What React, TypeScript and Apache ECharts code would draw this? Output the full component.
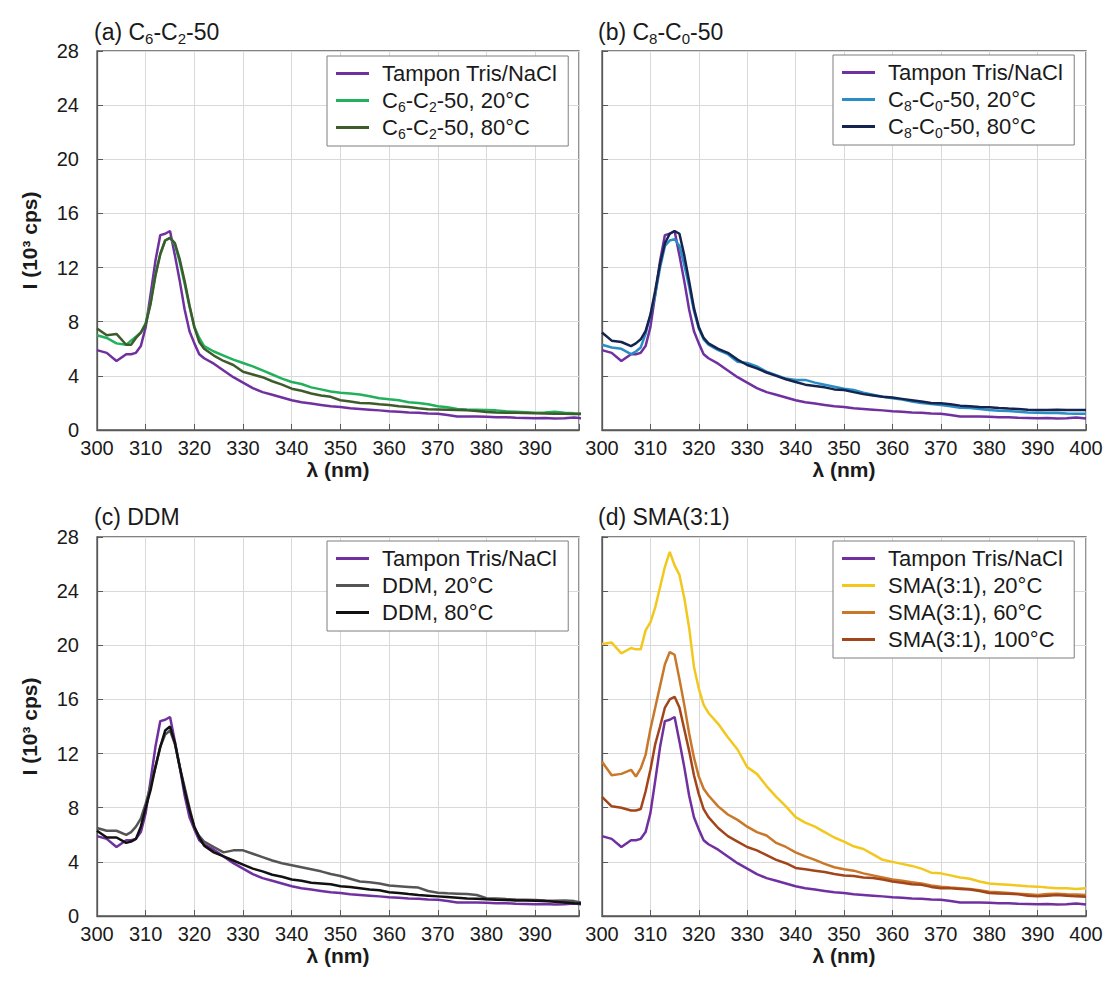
import React, { useEffect, useRef } from 'react';
import * as echarts from 'echarts';

// wavelength (nm)
const wavelengths = [
  300, 302, 304, 306, 307, 308, 309, 310, 311, 312, 313, 314, 315, 316, 317, 318, 319, 320, 321, 322,
  324, 326, 328, 330, 332, 334, 336, 338, 340, 342, 344, 346, 348, 350, 352, 354, 356, 358, 360, 362,
  364, 366, 368, 370, 372, 374, 376, 378, 380, 382, 384, 386, 388, 390, 392, 394, 396, 398, 400,
];

// intensities (10^3 cps)
const tampon = [
  5.9, 5.7, 5.1, 5.6, 5.6, 5.7, 6.2, 7.6, 10.0, 12.5, 14.4, 14.5, 14.7, 12.9, 11.0, 8.9, 7.3, 6.4, 5.6, 5.3,
  4.9, 4.4, 3.9, 3.5, 3.1, 2.8, 2.6, 2.4, 2.2, 2.05, 1.95, 1.85, 1.75, 1.7, 1.6, 1.55, 1.5, 1.45, 1.38, 1.35,
  1.3, 1.28, 1.22, 1.2, 1.1, 1.0, 1.0, 1.0, 0.98, 0.95, 0.95, 0.9, 0.88, 0.86, 0.88, 0.85, 0.86, 0.92, 0.85,
];
const c6c2_20 = [
  7.0, 6.8, 6.4, 6.3, 6.6, 6.9, 7.2, 7.9, 9.4, 11.5, 13.0, 14.0, 14.2, 13.7, 12.4, 10.8, 9.1, 7.6, 6.8, 6.2,
  5.8, 5.5, 5.2, 4.95, 4.7, 4.4, 4.1, 3.8, 3.55, 3.4, 3.15, 3.0, 2.85, 2.75, 2.7, 2.62, 2.5, 2.35, 2.27, 2.2,
  2.05, 2.0, 1.9, 1.75, 1.68, 1.55, 1.52, 1.5, 1.48, 1.45, 1.38, 1.35, 1.32, 1.28, 1.3, 1.35, 1.28, 1.23, 1.22,
];
const c6c2_80 = [
  7.5, 7.0, 7.1, 6.3, 6.3, 6.8, 7.2, 7.8, 9.3, 11.4, 13.0, 14.0, 14.2, 13.8, 12.6, 11.0, 9.2, 7.6, 6.5, 6.0,
  5.5, 5.1, 4.8, 4.3, 4.1, 3.9, 3.6, 3.35, 3.05, 2.9, 2.7, 2.55, 2.45, 2.2, 2.1, 2.0, 1.98, 1.9, 1.85, 1.75,
  1.7, 1.6, 1.53, 1.52, 1.5, 1.48, 1.45, 1.4, 1.33, 1.3, 1.28, 1.27, 1.25, 1.23, 1.22, 1.2, 1.2, 1.19, 1.18,
];
const c8c0_20 = [
  6.3, 6.1, 6.0, 5.6, 5.8, 6.1, 7.1, 8.5, 10.0, 12.0, 13.6, 14.0, 14.1, 13.6, 12.2, 10.6, 8.8, 7.5, 6.7, 6.3,
  5.9, 5.6, 5.05, 4.95, 4.7, 4.3, 4.05, 3.8, 3.7, 3.7, 3.5, 3.35, 3.2, 3.05, 2.95, 2.75, 2.6, 2.45, 2.35, 2.25,
  2.1, 2.0, 1.92, 1.85, 1.75, 1.65, 1.62, 1.55, 1.48, 1.42, 1.4, 1.35, 1.3, 1.28, 1.25, 1.25, 1.22, 1.2, 1.2,
];
const c8c0_80 = [
  7.2, 6.6, 6.5, 6.2, 6.4, 6.7, 7.3, 8.5, 10.3, 12.3, 13.8, 14.5, 14.7, 14.5, 12.9, 11.0, 9.0, 7.6, 6.8, 6.4,
  6.0, 5.7, 5.2, 4.8, 4.55, 4.25, 4.0, 3.75, 3.55, 3.35, 3.25, 3.15, 3.0, 2.95, 2.8, 2.65, 2.55, 2.45, 2.4, 2.3,
  2.2, 2.1, 2.0, 1.97, 1.9, 1.8, 1.75, 1.7, 1.68, 1.62, 1.58, 1.55, 1.5, 1.48, 1.48, 1.5, 1.48, 1.48, 1.47,
];
const ddm_20 = [
  6.5, 6.3, 6.3, 6.0, 6.2, 6.6, 7.2, 8.3, 9.6, 11.0, 12.5, 13.4, 13.7, 12.7, 11.0, 9.5, 8.0, 6.5, 5.9, 5.5,
  5.1, 4.7, 4.85, 4.85, 4.6, 4.35, 4.1, 3.9, 3.75, 3.6, 3.45, 3.3, 3.1, 2.95, 2.75, 2.55, 2.5, 2.4, 2.25, 2.2,
  2.15, 2.1, 1.85, 1.72, 1.68, 1.65, 1.62, 1.55, 1.32, 1.3, 1.25, 1.22, 1.2, 1.18, 1.15, 1.13, 1.15, 1.1, 0.95,
];
const ddm_80 = [
  6.3, 5.8, 5.8, 5.4, 5.5, 5.7, 6.6, 8.0, 9.3, 11.0, 12.5, 13.7, 14.0, 12.8, 11.0, 9.3, 7.8, 6.6, 5.8, 5.2,
  4.7, 4.4, 4.1, 3.8, 3.5, 3.3, 3.05, 2.9, 2.7, 2.6, 2.45, 2.4, 2.35, 2.2, 2.15, 2.05, 1.95, 1.9, 1.75, 1.7,
  1.62, 1.55, 1.5, 1.45, 1.4, 1.35, 1.3, 1.28, 1.23, 1.2, 1.18, 1.15, 1.15, 1.13, 1.1, 1.05, 1.0, 0.95, 0.92,
];
const sma_20 = [
  20.1, 20.2, 19.4, 19.8, 19.7, 19.7, 21.1, 21.7, 22.8, 24.3, 25.8, 26.9, 25.9, 25.2, 23.5, 21.3, 18.4, 16.8, 15.6, 15.0,
  14.2, 13.2, 12.3, 11.0, 10.5, 9.6, 8.8, 8.1, 7.3, 6.9, 6.6, 6.2, 5.8, 5.5, 5.15, 4.95, 4.55, 4.15, 4.0, 3.85,
  3.7, 3.5, 3.2, 3.15, 3.0, 2.85, 2.75, 2.55, 2.4, 2.35, 2.3, 2.25, 2.2, 2.17, 2.1, 2.05, 2.05, 2.0, 2.05,
];
const sma_60 = [
  11.4, 10.4, 10.5, 10.8, 10.3, 10.9, 11.9, 13.8, 15.4, 17.0, 18.6, 19.5, 19.3, 17.5, 15.6, 13.5, 11.7, 10.3, 9.4, 8.9,
  8.1, 7.5, 7.1, 6.6, 6.2, 5.95, 5.4, 5.1, 4.7, 4.4, 4.15, 3.85, 3.6, 3.45, 3.35, 3.15, 3.0, 2.85, 2.7, 2.6,
  2.5, 2.4, 2.25, 2.17, 2.1, 2.05, 2.0, 1.9, 1.8, 1.75, 1.7, 1.65, 1.6, 1.55, 1.62, 1.65, 1.6, 1.58, 1.55,
];
const sma_100 = [
  8.8, 8.1, 8.0, 7.8, 7.8, 7.9, 9.2, 10.8, 12.7, 14.0, 15.4, 16.0, 16.2, 15.4, 13.8, 12.2, 10.4, 9.0, 7.9, 7.3,
  6.5, 5.9, 5.5, 5.1, 4.85, 4.5, 4.15, 3.9, 3.55, 3.45, 3.35, 3.25, 3.1, 3.0, 2.95, 2.85, 2.8, 2.7, 2.55, 2.45,
  2.35, 2.3, 2.15, 2.05, 2.05, 2.0, 1.95, 1.85, 1.7, 1.67, 1.65, 1.6, 1.5, 1.45, 1.5, 1.55, 1.5, 1.45, 1.43,
];

const xMaxes = [399, 400, 399, 400];
const yTicksMax = 28;
const yInterval = 4;
const xInterval = 10;

const panelTitles = ['(a) C{s|6}-C{s|2}-50', '(b) C{s|8}-C{s|0}-50', '(c) DDM', '(d) SMA(3:1)'];

const TAMPON = 'Tampon Tris/NaCl';
const panels = [
  [
    { name: TAMPON, data: tampon, color: '#7030A0' },
    { name: 'C6-C2-50, 20°C', data: c6c2_20, color: '#22B05C' },
    { name: 'C6-C2-50, 80°C', data: c6c2_80, color: '#3E5B2B' },
  ],
  [
    { name: TAMPON, data: tampon, color: '#7030A0' },
    { name: 'C8-C0-50, 20°C', data: c8c0_20, color: '#2B8DC6' },
    { name: 'C8-C0-50, 80°C', data: c8c0_80, color: '#15244F' },
  ],
  [
    { name: TAMPON, data: tampon, color: '#7030A0' },
    { name: 'DDM, 20°C', data: ddm_20, color: '#555555' },
    { name: 'DDM, 80°C', data: ddm_80, color: '#111111' },
  ],
  [
    { name: TAMPON, data: tampon, color: '#7030A0' },
    { name: 'SMA(3:1), 20°C', data: sma_20, color: '#F2C81E' },
    { name: 'SMA(3:1), 60°C', data: sma_60, color: '#C9782A' },
    { name: 'SMA(3:1), 100°C', data: sma_100, color: '#A2451A' },
  ],
];

const legendLabels: Record<string, string> = {
  'C6-C2-50, 20°C': 'C{s|6}-C{s|2}-50, 20°C',
  'C6-C2-50, 80°C': 'C{s|6}-C{s|2}-50, 80°C',
  'C8-C0-50, 20°C': 'C{s|8}-C{s|0}-50, 20°C',
  'C8-C0-50, 80°C': 'C{s|8}-C{s|0}-50, 80°C',
};

const FONT = '"Liberation Sans", Arial, sans-serif';

export default function App() {
  const ref = useRef<HTMLDivElement>(null);
  useEffect(() => {
    document.body.style.margin = '0';
    const chart = echarts.init(ref.current!, null, { renderer: 'svg' });

    const gridPos = [
      { left: 97, top: 51, width: 482, height: 379 },
      { left: 602, top: 51, width: 484, height: 379 },
      { left: 97, top: 537, width: 482, height: 379 },
      { left: 602, top: 537, width: 484, height: 379 },
    ];
    const legendPos = [
      { left: 327, top: 56 },
      { left: 833, top: 55 },
      { left: 327, top: 541 },
      { left: 833, top: 541 },
    ];
    const titlePos = [
      { x: 94, y: 32 },
      { x: 598, y: 32 },
      { x: 94, y: 517 },
      { x: 598, y: 517 },
    ];

    const grid = gridPos.map((g) => ({
      ...g,
      show: true,
      borderColor: '#595959',
      borderWidth: 1.3,
      backgroundColor: 'transparent',
      containLabel: false,
    }));

    const xAxis = xMaxes.map((mx, i) => ({
      type: 'value',
      gridIndex: i,
      min: 300,
      max: mx,
      interval: xInterval,
      axisLine: { show: true, lineStyle: { color: '#595959', width: 1.3 } },
      axisTick: { show: true, inside: true, length: 6, lineStyle: { color: '#595959' } },
      axisLabel: {
        fontSize: 20,
        color: '#1a1a1a',
        fontFamily: FONT,
        margin: 8,
        formatter: (v: number) => (v % 10 === 0 ? String(v) : ''),
      },
      splitLine: { show: true, lineStyle: { color: '#D9D9D9', width: 1 } },
      name: 'λ (nm)',
      nameLocation: 'middle',
      nameGap: 25,
      nameTextStyle: { fontSize: 21, fontWeight: 'bold', color: '#1a1a1a', fontFamily: FONT },
    }));

    const yAxis = [0, 1, 2, 3].map((i) => {
      const isLeft = i % 2 === 0;
      return {
        type: 'value',
        gridIndex: i,
        min: 0,
        max: yTicksMax,
        interval: yInterval,
        axisLine: { show: true, lineStyle: { color: '#595959', width: 1.3 } },
        axisTick: { show: true, inside: true, length: 6, lineStyle: { color: '#595959' } },
        axisLabel: { show: isLeft, fontSize: 20, color: '#1a1a1a', fontFamily: FONT, margin: 18 },
        splitLine: { show: true, lineStyle: { color: '#D9D9D9', width: 1 } },
        name: isLeft ? 'I (10³ cps)' : '',
        nameLocation: 'middle',
        nameGap: 57,
        nameTextStyle: { fontSize: 21, fontWeight: 'bold', color: '#1a1a1a', fontFamily: FONT },
      };
    });

    const series: any[] = [];
    panels.forEach((p, i) => {
      p.forEach((s) => {
        series.push({
          type: 'line',
          name: s.name,
          xAxisIndex: i,
          yAxisIndex: i,
          data: wavelengths.map((x, k) => [x, s.data[k]]),
          color: s.color,
          showSymbol: false,
          symbol: 'none',
          lineStyle: { width: 2.5, color: s.color },
          clip: true,
          silent: true,
        });
      });
    });

    const legend = panels.map((p, i) => ({
      ...legendPos[i],
      orient: 'vertical',
      data: p.map((s) => s.name),
      icon: 'rect',
      itemWidth: 33,
      itemHeight: 3,
      itemGap: 0,
      padding: [4, 11, 5, 9],
      borderColor: '#7f7f7f',
      borderWidth: 1,
      backgroundColor: '#ffffff',
      selectedMode: false,
      formatter: (name: string) => legendLabels[name] || name,
      textStyle: {
        fontSize: 22,
        lineHeight: 27,
        color: '#1a1a1a',
        fontFamily: FONT,
        padding: [0, 0, 0, 8],
        rich: {
          s: { fontSize: 14, lineHeight: 14, padding: [12, 0, 0, 0], fontFamily: FONT, color: '#1a1a1a' },
        },
      },
    }));

    const graphic = panelTitles.map((t, i) => ({
      type: 'text',
      x: titlePos[i].x,
      y: titlePos[i].y,
      style: {
        text: t,
        fontSize: 23,
        fontFamily: FONT,
        fill: '#1a1a1a',
        verticalAlign: 'middle',
        rich: {
          s: { fontSize: 15, lineHeight: 15, padding: [13, 0, 0, 0], fontFamily: FONT, fill: '#1a1a1a' },
        },
      },
    }));

    chart.setOption({
      animation: false,
      backgroundColor: '#ffffff',
      grid,
      xAxis,
      yAxis,
      series,
      legend,
      graphic,
    });
    return () => chart.dispose();
  }, []);
  return <div ref={ref} style={{ width: 1107, height: 983 }} />;
}
